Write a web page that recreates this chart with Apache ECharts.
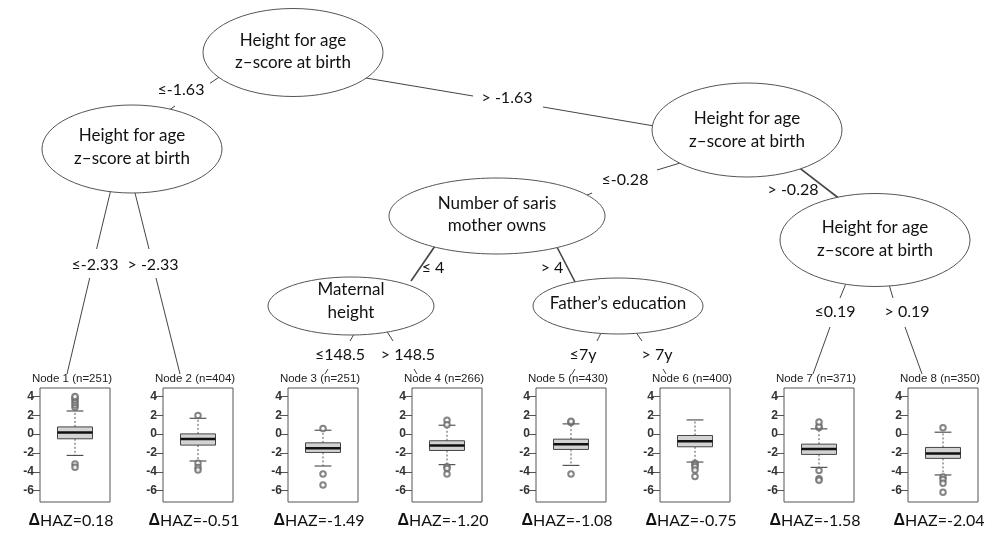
<!DOCTYPE html>
<html><head><meta charset="utf-8">
<script src="https://cdn.jsdelivr.net/npm/echarts@6/dist/echarts.min.js"></script>
<style>html,body{margin:0;padding:0;background:#fff}#c{width:988px;height:534px}</style>
</head><body><div id="c"></div>
<script>
// ---------- DATA ----------
const leafNames = ['Node 1','Node 2','Node 3','Node 4','Node 5','Node 6','Node 7','Node 8'];
const leafN = [251, 404, 251, 266, 430, 400, 371, 350];
const deltaHAZ = ['0.18','-0.51','-1.49','-1.20','-1.08','-0.75','-1.58','-2.04'];
const whiskerLow  = [-2.25, -2.85, -3.38, -3.24, -3.31, -2.96, -3.52, -4.33];
const quart1      = [-0.49, -1.16, -1.94, -1.73, -1.62, -1.34, -2.15, -2.57];
const medians     = [ 0.18, -0.51, -1.49, -1.20, -1.08, -0.75, -1.58, -2.04];
const quart3      = [ 0.77,  0.03, -0.92, -0.70, -0.53, -0.14, -1.06, -1.41];
const whiskerHigh = [ 2.46,  1.69,  0.42,  0.95,  1.09,  1.51,  0.56,  0.21];
const outliers = [
  [2.85, 3.1, 3.35, 3.6, 3.85, 4.0, -3.17, -3.52],
  [1.97, -3.1, -3.55, -3.8],
  [0.6, -4.23, -5.39],
  [1.48, 1.0, -3.45, -3.65, -4.23],
  [1.25, 1.37, -4.23],
  [-3.1, -3.25, -3.45, -3.8, -4.5],
  [0.7, 0.85, 1.3, -3.85, -4.72, -4.9],
  [0.67, -4.55, -4.8, -5.2, -6.16]
];
const yTicks = [-6, -4, -2, 0, 2, 4];
// internal (split) nodes of the tree
const splitNodeText = [
  ['Height for age', 'z\u2013score at birth'],
  ['Height for age', 'z\u2013score at birth'],
  ['Height for age', 'z\u2013score at birth'],
  ['Number of saris', 'mother owns'],
  ['Height for age', 'z\u2013score at birth'],
  ['Maternal', 'height'],
  ['Father\u2019s education']
];
// branch labels, in edge order
const splitLabels = ['\u2264-1.63', '> -1.63', '\u2264-2.33', '> -2.33', '\u2264-0.28', '> -0.28',
  '\u2264 4', '> 4', '\u2264148.5', '> 148.5', '\u22647y', '> 7y', '\u22640.19', '> 0.19'];

// ---------- LAYOUT (diagram geometry, pixels) ----------
const nodeLayout = [ // cx, cy, rx, ry, text dy
  [293, 52.5, 90, 44, -1],
  [132, 149, 90, 44, -2],
  [747, 130, 95, 47, 0],
  [497, 216, 108, 38, -1.5],
  [875, 240, 95, 46.5, -1],
  [351, 306, 83, 29, -5],
  [618, 306, 85, 28, -2.5]
];
const edgePieces = [
  [[226,72.5,210,83.3],[175,106,170,109.5]],
  [[360,77,473,96],[543,107,660,127]],
  [[112,185,96.6,249],[89.7,278,67,374]],
  [[133,185,149,249],[156,278,180,374]],
  [[690,160,657,170],[592,193,580,198]],
  [[790,160.7,845,203]],
  [[436.4,244,411,281]],
  [[555.4,244,575.6,283]],
  [[356.5,330,350,341],[328,369,325,374]],
  [[386,330,393,341],[414,369,417,374]],
  [[602,331,597,341],[575,369,572,374]],
  [[635,331,642,341],[663,369,666,374]],
  [[847,281,840,298],[830,327,813,374]],
  [[888,281,893,298],[905,327,922,374]]
];
const edgeWidth = [1,1,1,1,1,1.6,1.6,1.6,1,1,1,1,1,1];
const labelPos = [[181,90],[507,98],[95,265],[153,265],[625,180],[793,190],[433,268],[552,268],
  [340,355],[408,355],[583,355],[657,355],[835,312],[907,312]];
const frameLeft = [40, 163, 288, 412, 536, 660, 784, 908];

// ---------- CHART ----------
const TREE_FONT = 'Lato, "Open Sans", sans-serif';
const SANS = '"Liberation Sans", Arial, sans-serif';
const chart = echarts.init(document.getElementById('c'));
const grids = [], xAxes = [], yAxes = [], series = [];

function renderBox(params, api) {
  const x = api.value(0);
  const lo = api.coord([x, api.value(1)]), q1 = api.coord([x, api.value(2)]),
        md = api.coord([x, api.value(3)]), q3 = api.coord([x, api.value(4)]),
        hi = api.coord([x, api.value(5)]);
  const band = api.size([1, 0])[0];
  const bw = band * 0.5, cw = band * 0.24, cx = md[0];
  const wh = {stroke: '#555', lineWidth: 1, lineDash: [2, 2]};
  const cap = {stroke: '#333', lineWidth: 1};
  return {type: 'group', children: [
    {type: 'line', shape: {x1: cx, y1: q3[1], x2: cx, y2: hi[1]}, style: wh},
    {type: 'line', shape: {x1: cx, y1: q1[1], x2: cx, y2: lo[1]}, style: wh},
    {type: 'line', shape: {x1: cx - cw/2, y1: hi[1], x2: cx + cw/2, y2: hi[1]}, style: cap},
    {type: 'line', shape: {x1: cx - cw/2, y1: lo[1], x2: cx + cw/2, y2: lo[1]}, style: cap},
    {type: 'rect', shape: {x: cx - bw/2, y: q3[1], width: bw, height: q1[1] - q3[1]},
      style: {fill: '#d3d3d3', stroke: '#444', lineWidth: 1}},
    {type: 'line', shape: {x1: cx - bw/2, y1: md[1], x2: cx + bw/2, y2: md[1]},
      style: {stroke: '#111', lineWidth: 2.5}}
  ]};
}

frameLeft.forEach((l, i) => {
  grids.push({left: l, top: 388, width: 70, height: 114, show: true, borderColor: '#555', borderWidth: 1, backgroundColor: 'transparent'});
  xAxes.push({gridIndex: i, type: 'category', position: 'top', data: [leafNames[i] + ' (n=' + leafN[i] + ')'],
    axisLine: {show: false}, axisTick: {show: false},
    axisLabel: {margin: 3, fontSize: 11.5, color: '#222', fontFamily: SANS, padding: [0, 6, 0, 0]}});
  xAxes.push({gridIndex: i, type: 'category', position: 'bottom', data: [deltaHAZ[i]],
    axisLine: {show: false}, axisTick: {show: false},
    axisLabel: {margin: 11, fontSize: 16, color: '#111', fontFamily: TREE_FONT, padding: [0, 8, 0, 0],
      formatter: v => '{d|\u0394}HAZ=' + v,
      rich: {d: {fontWeight: 'bold', fontSize: 16, color: '#111', fontFamily: SANS}}}});
  yAxes.push({gridIndex: i, type: 'value', min: -7.2, max: 4.9,
    axisLine: {show: false}, splitLine: {show: false},
    axisTick: {show: true, length: 8, lineStyle: {color: '#555'}, customValues: yTicks},
    axisLabel: {customValues: yTicks, margin: 6, fontSize: 12, fontWeight: 'bold', color: '#333', fontFamily: SANS}});
  series.push({type: 'custom', xAxisIndex: 2*i, yAxisIndex: i, renderItem: renderBox, silent: true,
    encode: {x: 0, y: [1, 2, 3, 4, 5]},
    data: [[0, whiskerLow[i], quart1[i], medians[i], quart3[i], whiskerHigh[i]]]});
  series.push({type: 'scatter', xAxisIndex: 2*i, yAxisIndex: i, symbol: 'emptyCircle', symbolSize: 5.5,
    itemStyle: {color: '#666', borderWidth: 0.9}, silent: true, z: 5,
    data: outliers[i].map(v => [0, v])});
});

// overlay grid for the tree diagram
const OV = frameLeft.length;
grids.push({left: 0, top: 0, width: 988, height: 534, show: false});
xAxes.push({gridIndex: OV, type: 'value', min: 0, max: 988, show: false});
yAxes.push({gridIndex: OV, type: 'value', min: 0, max: 534, inverse: true, show: false});
const ovX = xAxes.length - 1, ovY = yAxes.length - 1;

const pieceData = [];
edgePieces.forEach((ps, e) => ps.forEach(p => pieceData.push([p[0], p[1], p[2], p[3], e])));
series.push({type: 'custom', xAxisIndex: ovX, yAxisIndex: ovY, silent: true, clip: false, z: 1,
  encode: {x: [0, 2], y: [1, 3]}, data: pieceData,
  renderItem: (p, api) => {
    const a = api.coord([api.value(0), api.value(1)]), b = api.coord([api.value(2), api.value(3)]);
    return {type: 'line', shape: {x1: a[0], y1: a[1], x2: b[0], y2: b[1]},
      style: {stroke: '#444', lineWidth: edgeWidth[api.value(4)]}};
  }});
series.push({type: 'custom', xAxisIndex: ovX, yAxisIndex: ovY, silent: true, clip: false, z: 3,
  encode: {x: 0, y: 1}, data: nodeLayout.map((n, i) => [n[0], n[1], n[2], n[3], n[4], i]),
  renderItem: (p, api) => {
    const c = api.coord([api.value(0), api.value(1)]);
    const s = api.size([api.value(2), api.value(3)]);
    const lines = splitNodeText[api.value(5)];
    return {type: 'group', children: [
      {type: 'ellipse', shape: {cx: c[0], cy: c[1], rx: s[0], ry: s[1]}, style: {fill: '#fff', stroke: '#555', lineWidth: 1}},
      {type: 'text', style: {text: lines.join('\n'), x: c[0], y: c[1] + api.value(4), align: 'center', verticalAlign: 'middle',
        font: '17px ' + TREE_FONT, lineHeight: 22.5, fill: '#111'}}
    ]};
  }});
series.push({type: 'custom', xAxisIndex: ovX, yAxisIndex: ovY, silent: true, clip: false, z: 4,
  encode: {x: 0, y: 1}, data: labelPos.map((p, i) => [p[0], p[1], i]),
  renderItem: (p, api) => {
    const c = api.coord([api.value(0), api.value(1)]);
    return {type: 'text', style: {text: splitLabels[api.value(2)], x: c[0], y: c[1], align: 'center', verticalAlign: 'middle',
      font: '16px ' + TREE_FONT, fill: '#111'}};
  }});

chart.setOption({animation: false, backgroundColor: '#fff', grid: grids, xAxis: xAxes, yAxis: yAxes, series: series});
</script></body></html>
